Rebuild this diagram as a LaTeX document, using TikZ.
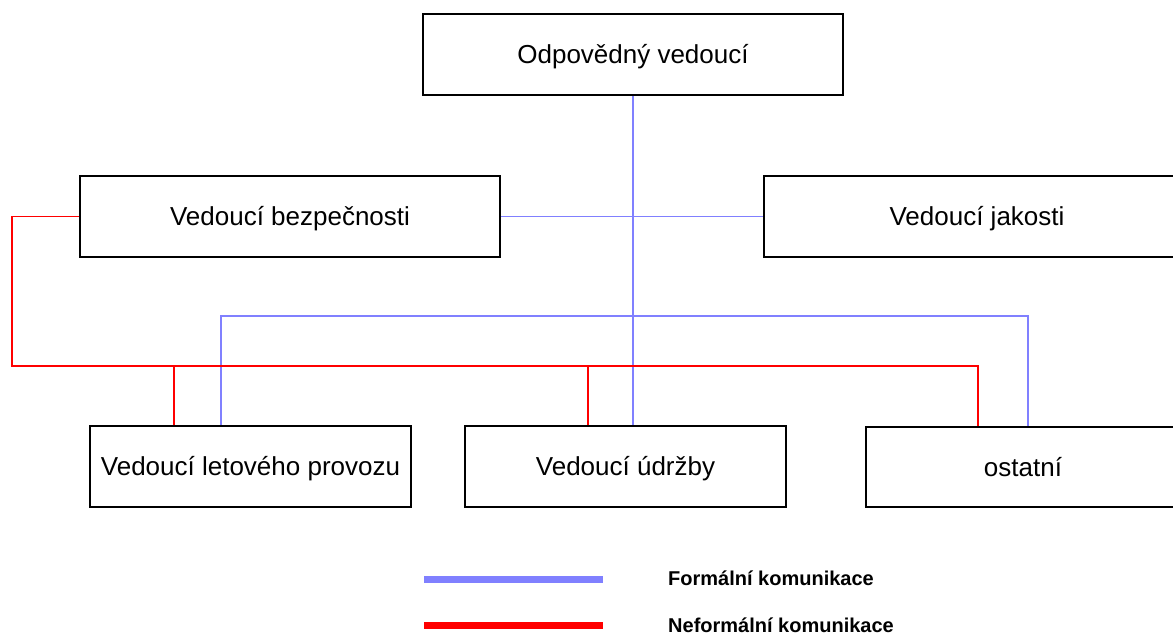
\documentclass[tikz,border=0pt]{standalone}
\usepackage{fontspec}
\setmainfont{Liberation Sans}
\definecolor{formalblue}{HTML}{8080FF}
\definecolor{informalred}{HTML}{FF0000}
\begin{document}
\begin{tikzpicture}[x=1pt,y=-1pt,
  orgbox/.style={draw=black, line width=1.8pt, fill=white, minimum height=81pt, inner sep=0pt,
    font=\fontsize{26}{30}\selectfont, text height=18.6pt, text depth=0pt},
  formal/.style={draw=formalblue, line width=1.6pt},
  informal/.style={draw=informalred, line width=1.6pt},
  legtext/.style={anchor=base west, inner sep=0pt, font=\fontsize{20}{24}\selectfont\bfseries}]
\useasboundingbox[fill=white] (0,0) rectangle (1173,635);
\begin{scope}
\clip (0,0) rectangle (1173,635);
% boxes
\node[orgbox, minimum width=420pt] (top) at (633,54.5) {Odpovědný vedoucí};
\node[orgbox, minimum width=420pt] (bezp) at (290,216.5) {Vedoucí bezpečnosti};
\node[orgbox, minimum width=426pt] (jak) at (977,216.5) {Vedoucí jakosti};
\node[orgbox, minimum width=321pt] (let) at (250.5,466.5) {Vedoucí letového provozu};
\node[orgbox, minimum width=321pt] (udr) at (625.5,466.5) {Vedoucí údržby};
\node[orgbox, minimum width=314pt, minimum height=80pt] (ost) at (1023,467) {ostatní};
% helper coordinates
\coordinate (fL) at (221,316);
\coordinate (fR) at (1028,316);
\coordinate (nL) at (12,366);
\coordinate (nR) at (978,366);
\coordinate (n1) at (174,366);
\coordinate (n2) at (588,366);
% formal connectors
\draw[formal] (top.south) -- (top.south |- udr.north);
\draw[formal] (bezp.east) -- (jak.west);
\draw[formal] (fL |- let.north) -- (fL) -- (fR) -- (fR |- ost.north);
% informal connectors
\draw[informal] (bezp.west) -- (bezp.west -| nL) -- (nL) -- (nR) -- (nR |- ost.north);
\draw[informal] (n1) -- (n1 |- let.north);
\draw[informal] (n2) -- (n2 |- udr.north);
% legend
\coordinate (lb1) at (424,579.5);
\coordinate (lb2) at (603,579.5);
\coordinate (lr1) at (424,625.5);
\coordinate (lr2) at (603,625.5);
\draw[formal, line width=7pt] (lb1) -- (lb2);
\draw[informal, line width=7pt] (lr1) -- (lr2);
\node[legtext] (lf) at (668,585) {Formální komunikace};
\node[legtext] (ln) at (668,632) {Neformální komunikace};
\end{scope}
\end{tikzpicture}
\end{document}
